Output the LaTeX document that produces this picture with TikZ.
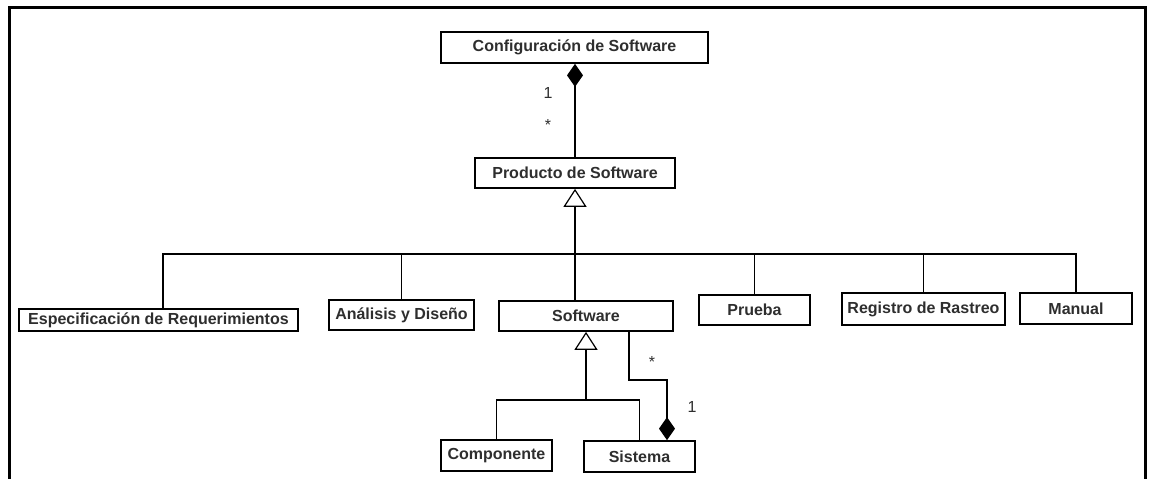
\documentclass[tikz,border=0pt]{standalone}
\usepackage{fontspec}
\setmainfont{Liberation Sans}
\usetikzlibrary{arrows.meta}
\definecolor{txt}{HTML}{2E2E2E}
\tikzset{
  cls/.style={draw=black, line width=1.7pt, fill=white, inner sep=0pt,
    font=\fontsize{16}{19}\selectfont\bfseries, text=txt, anchor=center},
  conn/.style={draw=black, line width=1.2pt},
  gen/.style={conn, -{Triangle[open, length=18pt, width=23pt, line width=1.2pt]}},
  compo/.style={conn, {Diamond[length=23pt, width=16pt]}-},
  mult/.style={font=\fontsize{16}{18}\selectfont, text=txt, inner sep=0pt}
}
\begin{document}
\begin{tikzpicture}[x=1pt, y=-1pt]
\useasboundingbox (0,0) rectangle (1149,479);
\fill[white] (0,0) rectangle (1149,479);
% outer frame
\draw[line width=3pt] (9,479) -- (9,7) -- (1145,7) -- (1145,479);

% classes
\node[cls, minimum width=267pt, minimum height=31pt] (conf) at (574.5,47.5) {Configuración de Software};
\node[cls, minimum width=200pt, minimum height=30pt] (prod) at (575,173) {Producto de Software};
\node[cls, minimum width=279pt, minimum height=22pt] (espec) at (158.5,320) {Especificación de Requerimientos};
\node[cls, minimum width=145pt, minimum height=30pt] (anal) at (401.5,315) {Análisis y Diseño};
\node[cls, minimum width=174pt, minimum height=30pt] (sw) at (586,316) {Software};
\node[cls, minimum width=111pt, minimum height=30pt] (prueba) at (754.5,310) {Prueba};
\node[cls, minimum width=163pt, minimum height=32pt] (reg) at (923.5,309) {Registro de Rastreo};
\node[cls, minimum width=112pt, minimum height=31pt] (manual) at (1076,308.5) {Manual};
\node[cls, minimum width=111pt, minimum height=31pt] (comp) at (496.5,455.5) {Componente};
\node[cls, minimum width=111pt, minimum height=31pt] (sis) at (639.5,456.5) {Sistema};

% helper coordinates
\coordinate (bus) at (0,254);
\coordinate (bus2) at (0,400);
\coordinate (c1) at (629,380);
\coordinate (c2) at (667,380);

% composition Configuración -> Producto
\draw[compo] (conf.south -| prod.north) -- (prod.north);
\node[mult] (m1) at (548,93) {1};
\node[mult] (m2) at (548,125) {*};

% generalization to Producto de Software
\draw[gen] (sw.north -| prod.south) -- (prod.south);
\draw[conn] (espec.north -| 163,0) -- (bus -| 163,0) -- (bus -| manual.north) -- (manual.north);
\draw[conn] (anal.north) -- (anal.north |- bus);
\draw[conn] (prueba.north) -- (prueba.north |- bus);
\draw[conn] (reg.north) -- (reg.north |- bus);

% generalization to Software
\draw[gen] (sw.south |- bus2) -- (sw.south);
\draw[conn] (comp.north) -- (comp.north |- bus2) -- (sis.north |- bus2) -- (sis.north);

% composition Sistema -> Software
\draw[compo] (sis.north -| c2) -- (c2) -- (c1) -- (c1 |- sw.south);
\node[mult] (m3) at (652,362) {*};
\node[mult] (m4) at (692,407) {1};
\end{tikzpicture}
\end{document}
